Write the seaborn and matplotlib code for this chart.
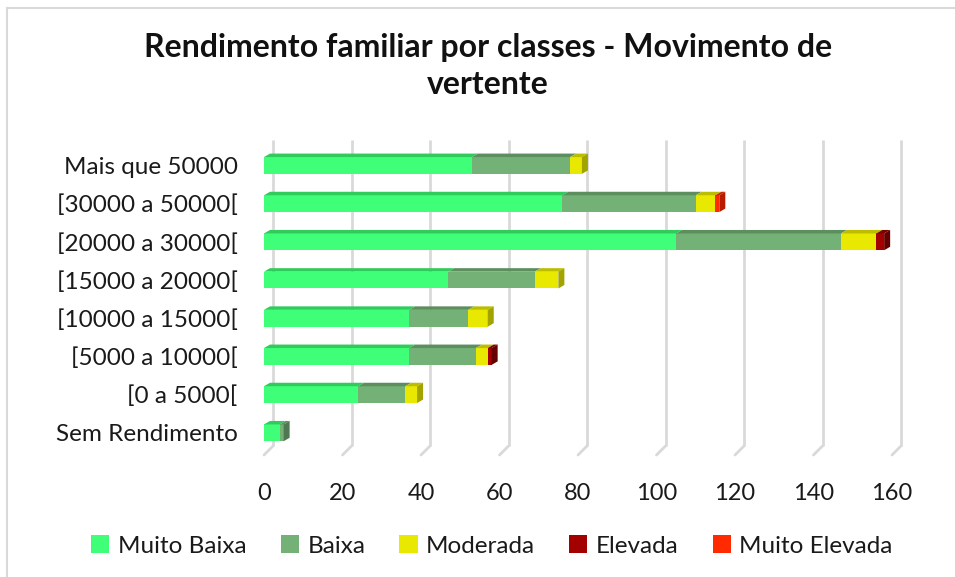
import matplotlib
matplotlib.use("Agg")
import matplotlib.pyplot as plt
from matplotlib.patches import Polygon, Rectangle, Patch
import numpy as np
import pandas as pd
import seaborn as sns

# ---- data -------------------------------------------------------------
categories = [
    "Mais que 50000",
    "[30000 a 50000[",
    "[20000 a 30000[",
    "[15000 a 20000[",
    "[10000 a 15000[",
    "[5000 a 10000[",
    "[0 a 5000[",
    "Sem Rendimento",
]
series_names = ["Muito Baixa", "Baixa", "Moderada", "Elevada", "Muito Elevada"]
muito_baixa   = [53, 76, 105, 47, 37, 37, 24, 4]
baixa         = [25, 34, 42, 22, 15, 17, 12, 1]
moderada      = [3, 5, 9, 6, 5, 3, 3, 0]
elevada       = [0, 0, 2, 0, 0, 1, 0, 0]
muito_elevada = [0, 1, 0, 0, 0, 0, 0, 0]
x_ticks = [0, 20, 40, 60, 80, 100, 120, 140, 160]
title = "Rendimento familiar por classes - Movimento de\nvertente"

front_colors = ["#3FFF78", "#74B176", "#E8E800", "#A30000", "#FF2A00"]
top_colors   = ["#2FCC5C", "#5C8E5E", "#BDBD00", "#7A0000", "#CC2000"]
side_colors  = ["#2BB853", "#4F7A51", "#A3A300", "#660000", "#B81C00"]

sns.set_theme(style="white")
plt.rcParams["font.family"] = ["Lato", "DejaVu Sans"]

W, H = 955, 577
fig = plt.figure(figsize=(W / 100, H / 100), dpi=100)

# axes box in pixels (front plane)
ax_left, ax_right = 264, 892
ax_top, ax_bottom = 140, 455
ax = fig.add_axes([ax_left / W, 1 - ax_bottom / H,
                   (ax_right - ax_left) / W, (ax_bottom - ax_top) / H])

values = np.array([muito_baixa, baixa, moderada, elevada, muito_elevada], dtype=float)
cum = np.cumsum(values, axis=0)

# stacked bars: draw cumulative totals from the widest down
bar_h = 0.44
for k in range(len(series_names) - 1, -1, -1):
    df = pd.DataFrame({"cat": categories, "val": cum[k]})
    sns.barplot(data=df, y="cat", x="val", orient="h", color=front_colors[k],
                width=bar_h, saturation=1, ax=ax, linewidth=0, zorder=3)

ax.set_xlim(0, 160)
ax.set_ylim(7.58, -0.667)

# pixel -> data scale for the extruded faces
px_x = 160 / (ax_right - ax_left)
px_y = (7.58 + 0.667) / (ax_bottom - ax_top)
dx, dy = 6 * px_x, 3.5 * px_y

for i in range(len(categories)):
    y_top = i - bar_h / 2
    y_bot = i + bar_h / 2
    start = 0.0
    last = None
    for k in range(len(series_names)):
        v = values[k, i]
        if v <= 0:
            continue
        end = start + v
        ax.add_patch(Polygon([(start, y_top), (start + dx, y_top - dy),
                              (end + dx, y_top - dy), (end, y_top)],
                             closed=True, facecolor=top_colors[k],
                             edgecolor="none", zorder=4))
        last = (end, k)
        start = end
    if last is not None:
        end, k = last
        ax.add_patch(Polygon([(end, y_top), (end + dx, y_top - dy),
                              (end + dx, y_bot - dy), (end, y_bot)],
                             closed=True, facecolor=side_colors[k],
                             edgecolor="none", zorder=4))

# back-wall gridlines with a short floor segment
gdx = 9 * px_x
gdy = 9 * px_y
for t in x_ticks:
    ax.plot([t + gdx, t + gdx], [-0.667, 7.58 - gdy], color="#D9D9D9",
            lw=2, zorder=1, clip_on=False, solid_capstyle="butt")
    ax.plot([t + gdx, t], [7.58 - gdy, 7.58], color="#D9D9D9",
            lw=2, zorder=1, clip_on=False)

for s in ax.spines.values():
    s.set_visible(False)
ax.set_xlabel("")
ax.set_ylabel("")
ax.set_xticks(x_ticks)
ax.set_xticklabels([str(t) for t in x_ticks], fontsize=17, color="#1a1a1a")
ax.set_yticks(range(len(categories)))
ax.set_yticklabels(categories, fontsize=17.5, color="#1a1a1a")
ax.tick_params(axis="x", length=0, pad=20)
ax.tick_params(axis="y", length=0, pad=19)
ax.grid(False)
ax.set_facecolor("none")

fig.text(488 / W, 1 - 66 / H, title, ha="center", va="center",
         fontsize=23, fontweight="bold", color="#111111", linespacing=1.3)

handles = [Patch(facecolor=c, edgecolor="none") for c in front_colors]
fig.legend(handles, series_names, loc="center", bbox_to_anchor=(492 / W, 1 - 546 / H),
           ncol=5, frameon=False, fontsize=17.5, handlelength=0.75, handleheight=0.75,
           handletextpad=0.35, columnspacing=1.4, labelcolor="#1a1a1a")

# chart frame
fig.patches.append(Rectangle((7 / W, -0.05), 1.2, 1 - 8 / H + 0.05,
                             transform=fig.transFigure, fill=False,
                             edgecolor="#D9D9D9", lw=1.5, zorder=0))

fig.savefig("out.png", dpi=100)
